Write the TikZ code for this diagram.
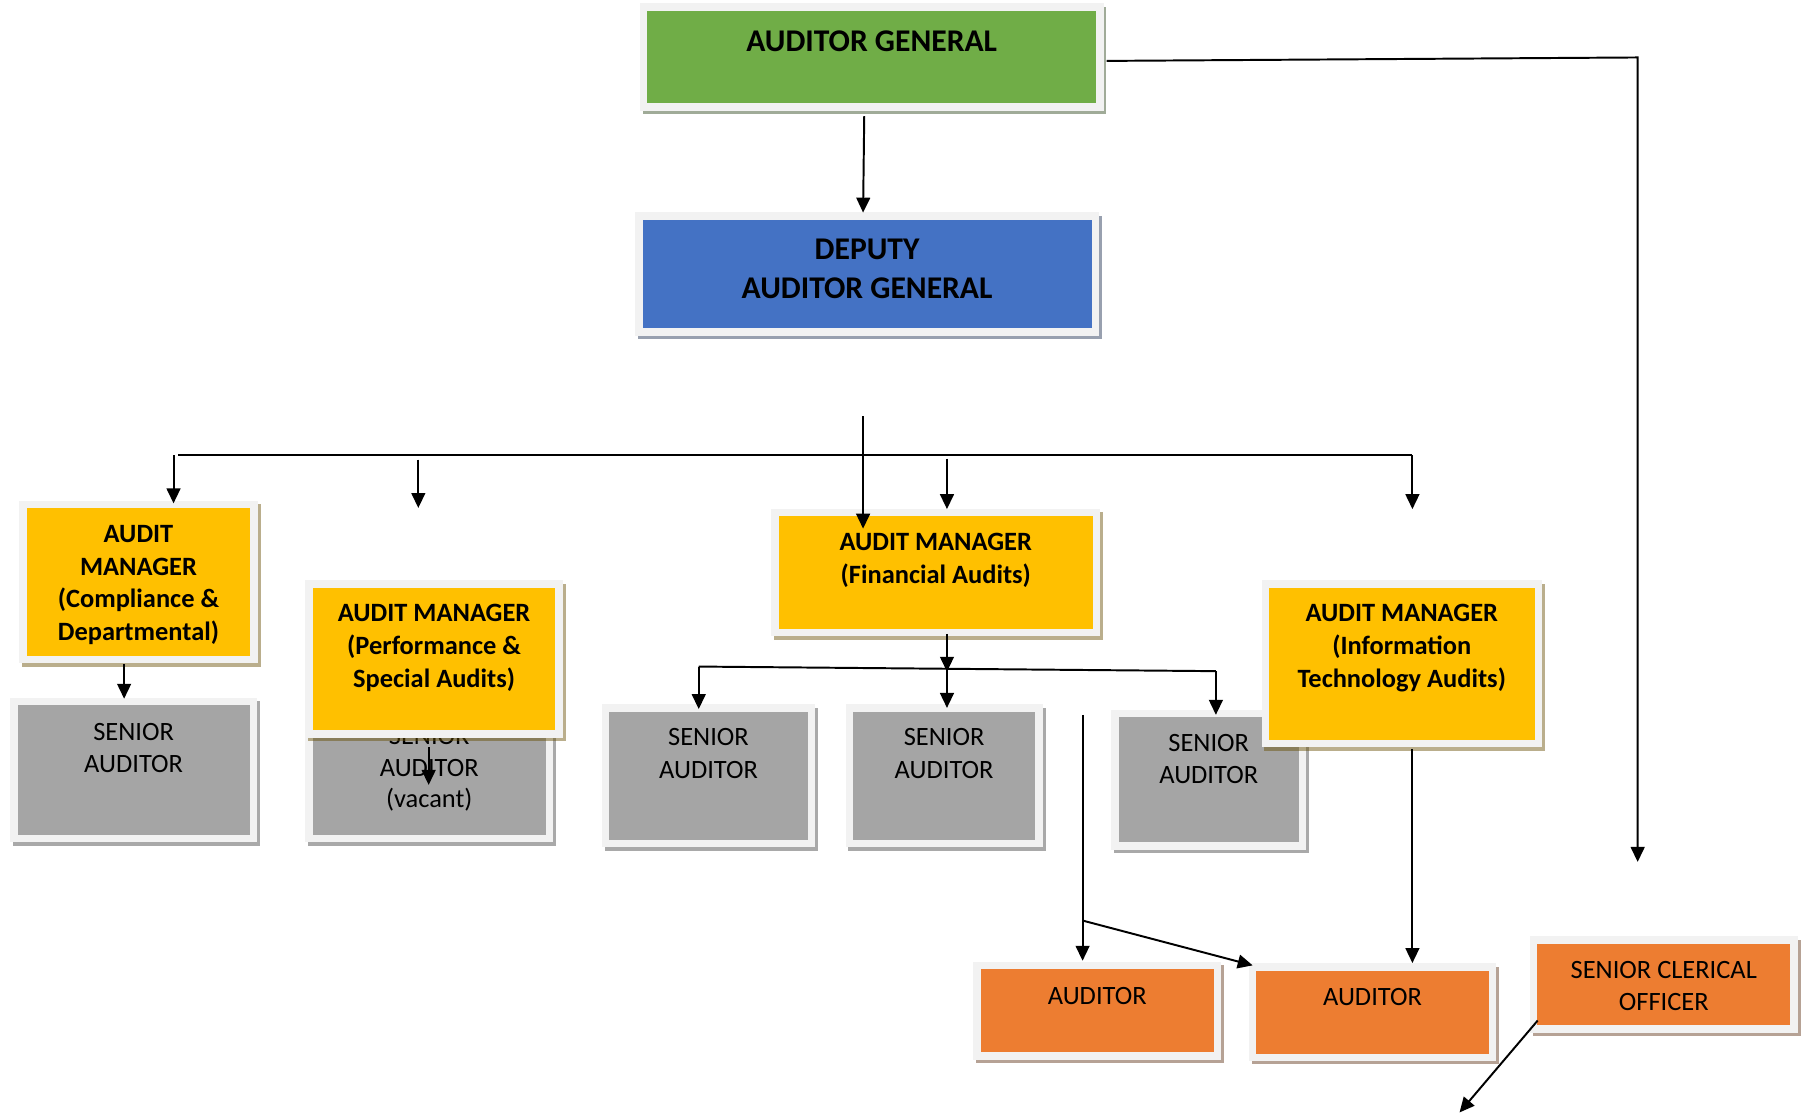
\documentclass[tikz,border=0pt]{standalone}
\usepackage{fontspec}
\setmainfont{Carlito}
\usetikzlibrary{arrows.meta,shadows}
\definecolor{frame}{HTML}{F2F2F2}
\definecolor{cgreen}{HTML}{70AD47}
\definecolor{cblue}{HTML}{4472C4}
\definecolor{cyellow}{HTML}{FFC000}
\definecolor{cgrey}{HTML}{A5A5A5}
\definecolor{corange}{HTML}{ED7D31}
\tikzset{
  obase/.style={draw=frame, line width=6.5pt, inner sep=0pt, outer sep=0pt, text=black},
  shad/.style={drop shadow={shadow xshift=2.5pt, shadow yshift=-3pt, fill=#1!40!black, draw=#1!40!black, line width=6.5pt, opacity=0.45}},
  gbox/.style={obase, fill=cgreen, shad=cgreen},
  bbox/.style={obase, fill=cblue, shad=cblue},
  ybox/.style={obase, fill=cyellow, shad=cyellow},
  gybox/.style={obase, fill=cgrey, shad=cgrey},
  obox/.style={obase, fill=corange, shad=corange},
  bigtxt/.style={font=\fontsize{27.5}{34}\selectfont\bfseries},
  medtxt/.style={font=\fontsize{23}{28.5}\selectfont\bfseries},
  regtxt/.style={font=\fontsize{23}{28}\selectfont},
  arr/.style={line width=1.7pt, -{Triangle[length=13pt,width=12pt]}},
  ln/.style={line width=1.7pt}
}
% #1 name, #2 x1, #3 y1, #4 x2, #5 y2, #6 style, #7 first baseline offset, #8 text
\newcommand\orgbox[8]{%
  \pgfmathsetmacro\obw{#4-#2}%
  \pgfmathsetmacro\obh{#5-#3}%
  \pgfmathsetmacro\obx{(#2+#4)/2}%
  \pgfmathsetmacro\oby{(#3+#5)/2}%
  \node[#6] (#1) at (\obx,\oby) {\parbox[t][\obh pt][t]{\obw pt}{\centering\rule{0pt}{#7pt}#8\par}};%
}
\begin{document}
\begin{tikzpicture}[x=1pt,y=-1pt]
\useasboundingbox (0,0) rectangle (1568,971);
\fill[white] (0,0) rectangle (1568,971);

\orgbox{ag}{560}{6}{957}{93}{gbox,bigtxt}{38.7}{AUDITOR GENERAL}
\orgbox{dag}{556}{188}{953}{289}{bbox,bigtxt}{38}{DEPUTY\\AUDITOR GENERAL}
\orgbox{amc}{20}{439}{221}{574}{ybox,medtxt}{33}{AUDIT\\MANAGER\\(Compliance \&\\Departmental)}
\orgbox{sa1}{12}{610.5}{220.5}{729.5}{gybox,regtxt}{33.5}{SENIOR\\AUDITOR}
\orgbox{sav}{269}{613}{478}{729.5}{gybox,font=\fontsize{23}{27.5}\selectfont}{35}{SENIOR\\AUDITOR\\(vacant)}
\orgbox{amp}{269}{508}{486.5}{638.5}{ybox,medtxt}{33}{AUDIT MANAGER\\(Performance \&\\Special Audits)}
\orgbox{amf}{674.5}{446}{954}{550.5}{ybox,medtxt}{33}{AUDIT MANAGER\\(Financial Audits)}
\orgbox{sf1}{527}{616}{706}{734}{gybox,regtxt}{33}{SENIOR\\AUDITOR}
\orgbox{sf2}{739}{616}{904}{734}{gybox,regtxt}{33}{SENIOR\\AUDITOR}
\orgbox{sf3}{970}{621}{1133.5}{736}{gybox,regtxt}{33}{SENIOR\\AUDITOR}
\orgbox{amit}{1101}{508}{1338.5}{647}{ybox,medtxt}{33}{AUDIT MANAGER\\(Information\\Technology Audits)}
\orgbox{aud1}{850}{840}{1059.5}{919}{obox,regtxt}{34}{AUDITOR}
\orgbox{aud2}{1090}{841.5}{1298.5}{920}{obox,regtxt}{33.5}{AUDITOR}
\orgbox{sco}{1334.5}{818}{1561}{895.5}{obox,regtxt}{33}{SENIOR CLERICAL\\OFFICER}

% free ends
\coordinate (agcorner) at (1425,50);
\coordinate (scoin) at (1425,750);
\coordinate (dagout) at (751,362);
\coordinate (busL) at (155,396);
\coordinate (busR) at (1229,396);
\coordinate (d2a) at (364,400);
\coordinate (d2b) at (364,442);
\coordinate (d4b) at (1229,443);
\coordinate (fbusL) at (608,580);
\coordinate (fbusR) at (1058,584);
\coordinate (a1in) at (942,622);
\coordinate (a1split) at (942,801);
\coordinate (scoout) at (1270,968);

% connectors
\draw[arr] ([shift={(-6.5,8)}]ag.south) -- ([shift={(-3.5,-3)}]dag.north);
\draw[arr] ([shift={(6,3.5)}]ag.east) -- (agcorner) -- (scoin);
\draw[ln] (busL) -- (busR);
\draw[arr] (dagout) -- ([shift={(-63.25,14)}]amf.north);
\draw[arr] ([shift={(30.5,-43)}]amc.north) -- ([shift={(30.5,-1)}]amc.north);
\draw[arr] (d2a) -- (d2b);
\draw[arr] ([shift={(9.75,-47)}]amf.north) -- ([shift={(9.75,-3)}]amf.north);
\draw[arr] (busR) -- (d4b);
\draw[arr] ([shift={(-12.5,4)}]amc.south) -- ([shift={(-8.25,-2.5)}]sa1.north);
\draw[arr] ([shift={(-4.75,11.5)}]amp.south) -- ([shift={(-0.5,70)}]sav.north);
\draw[arr] ([shift={(9.75,1)}]amf.south) -- ([shift={(9.75,34)}]amf.south);
\draw[ln] (fbusL) -- (fbusR);
\draw[arr] ([shift={(2.5,-34)}]sf2.north) -- ([shift={(2.5,0)}]sf2.north);
\draw[arr] (fbusL) -- ([shift={(-8.5,1)}]sf1.north);
\draw[arr] (fbusR) -- ([shift={(6.25,1)}]sf3.north);
\draw[arr] (a1in) -- ([shift={(-12.75,-4)}]aud1.north);
\draw[arr] (a1split) -- ([shift={(0,-1.5)}]aud2.north west);
\draw[arr] ([shift={(9.25,5)}]amit.south) -- ([shift={(34.75,-3.5)}]aud2.north);
\draw[arr] ([shift={(3.5,-7.5)}]sco.south west) -- (scoout);
\end{tikzpicture}
\end{document}
